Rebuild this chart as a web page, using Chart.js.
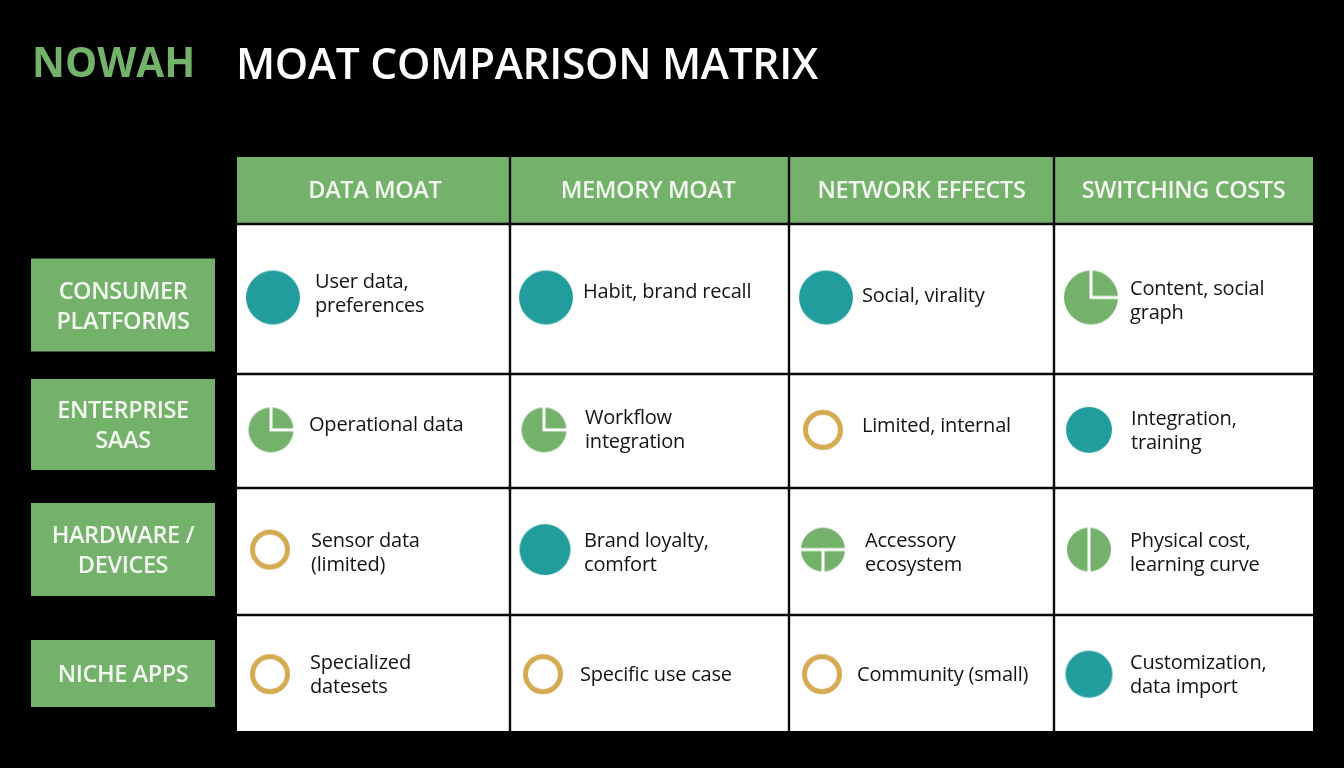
<!DOCTYPE html>
<html>
<head>
<meta charset="utf-8">
<style>html,body{margin:0;padding:0;background:#000;}canvas{display:block;}</style>
<script src="https://cdn.jsdelivr.net/npm/chart.js@4"></script>
</head>
<body>
<canvas id="c" width="1344" height="768"></canvas>
<script>
// ---- content ----
const brand = 'NOWAH';
const chartTitle = 'MOAT COMPARISON MATRIX';
const columns = ['DATA MOAT', 'MEMORY MOAT', 'NETWORK EFFECTS', 'SWITCHING COSTS'];
const rowNames = [['CONSUMER', 'PLATFORMS'], ['ENTERPRISE', 'SAAS'], ['HARDWARE /', 'DEVICES'], ['NICHE APPS']];
// moat strength per cell: full / three / half / tee / none
const consumerLevels = ['full', 'full', 'full', 'three'];
const enterpriseLevels = ['three', 'three', 'none', 'full'];
const hardwareLevels = ['none', 'full', 'tee', 'half'];
const nicheLevels = ['none', 'none', 'none', 'full'];
const consumerNotes = [['User data,', 'preferences'], ['Habit, brand recall'], ['Social, virality'], ['Content, social', 'graph']];
const enterpriseNotes = [['Operational data'], ['Workflow', 'integration'], ['Limited, internal'], ['Integration,', 'training']];
const hardwareNotes = [['Sensor data', '(limited)'], ['Brand loyalty,', 'comfort'], ['Accessory', 'ecosystem'], ['Physical cost,', 'learning curve']];
const nicheNotes = [['Specialized', 'datesets'], ['Specific use case'], ['Community (small)'], ['Customization,', 'data import']];
const levelsByRow = [consumerLevels, enterpriseLevels, hardwareLevels, nicheLevels];
const notesByRow = [consumerNotes, enterpriseNotes, hardwareNotes, nicheNotes];

// ---- layout (pixels on the page, separate from the content) ----
const xEdges = [0, 237, 510, 789, 1054, 1313, 1344];          // value -1..5
const yEdges = [0, 157, 224, 374, 488, 615, 731, 768];        // value -2..5
const headerMiddle = [0.505, 0.495, 0.5, 0.5];
const ballInset = [[36, 36, 37, 37], [34, 34, 34, 35], [33, 35, 34, 35], [33, 33, 33, 35]];
const ballMiddle = [0.49, 0.49, 0.485, 0.51];
const ballDiameter = [[54, 54, 54, 54], [45, 45, 40, 46], [40, 51, 44, 44], [40, 40, 40, 47]];
const noteInset = [[78, 73, 73, 76], [72, 75, 73, 77], [74, 74, 76, 76], [73, 70, 68, 76]];
const noteMiddle = [[0.467, 0.453, 0.48, 0.513], [0.45, 0.49, 0.46, 0.5], [0.516, 0.516, 0.516, 0.516], [0.517, 0.517, 0.517, 0.517]];
const lineGap = 24;
const rowBox = { left: 31, right: 215, mid: [305, 424.5, 549.5, 673.5], height: [93, 91, 93, 67], gap: 30 };

const GREEN = '#74b26c', TEAL = '#229d9d', GOLD = '#d4aa52', INK = '#141414';
const SANS = '"Open Sans"';

class EdgeScale extends Chart.LinearScale {
  static id = 'edge';
  static defaults = Chart.LinearScale.defaults;
  getPixelForValue(v) {
    const e = this.options.edges, base = this.min;
    const t = v - base, i = Math.max(0, Math.min(e.length - 2, Math.floor(t)));
    return e[i] + (t - i) * (e[i + 1] - e[i]);
  }
}
Chart.register(EdgeScale);

function ball(kind, d) {
  const c = document.createElement('canvas');
  c.width = c.height = d + 2;
  const g = c.getContext('2d'), m = (d + 2) / 2, r = d / 2;
  g.beginPath();
  if (kind === 'none') {
    g.arc(m, m, r - 2.5, 0, Math.PI * 2);
    g.lineWidth = 5; g.strokeStyle = GOLD; g.stroke();
    return c;
  }
  g.arc(m, m, r, 0, Math.PI * 2);
  g.fillStyle = kind === 'full' ? TEAL : GREEN;
  g.fill();
  g.strokeStyle = '#fff'; g.lineWidth = 3;
  g.beginPath();
  if (kind === 'three') { g.moveTo(m, 0); g.lineTo(m, m); g.lineTo(d + 2, m); }
  if (kind === 'half') { g.moveTo(m, 0); g.lineTo(m, d + 2); }
  if (kind === 'tee') { g.moveTo(0, m); g.lineTo(d + 2, m); g.moveTo(m, m); g.lineTo(m, d + 2); }
  g.stroke();
  return c;
}

function text(ctx, s, x, y, font, color, align, spacing) {
  ctx.font = font; ctx.fillStyle = color; ctx.textAlign = align || 'left';
  ctx.textBaseline = 'middle'; ctx.letterSpacing = (spacing || 0) + 'px';
  ctx.fillText(s, x, y);
  ctx.letterSpacing = '0px';
}

const matrixPlugin = {
  id: 'matrix',
  beforeDatasetsDraw(chart) {
    const { ctx, scales: { x, y } } = chart;
    const X = v => x.getPixelForValue(v), Y = v => y.getPixelForValue(v);
    ctx.save();
    ctx.fillStyle = '#000'; ctx.fillRect(0, 0, chart.width, chart.height);
    ctx.fillStyle = GREEN; ctx.fillRect(X(0), Y(-1), X(4) - X(0), Y(0) - Y(-1));
    ctx.fillStyle = '#fff'; ctx.fillRect(X(0), Y(0), X(4) - X(0), Y(4) - Y(0));
    ctx.strokeStyle = '#0a0a0a'; ctx.lineWidth = 2.4;
    for (let c = 1; c < 4; c++) { ctx.beginPath(); ctx.moveTo(X(c), Y(-1)); ctx.lineTo(X(c), Y(4)); ctx.stroke(); }
    for (let r = 0; r < 4; r++) { ctx.beginPath(); ctx.moveTo(X(0), Y(r)); ctx.lineTo(X(4), Y(r)); ctx.stroke(); }
    // column and row headers
    columns.forEach((name, c) => text(ctx, name, X(c + headerMiddle[c]), Y(-0.5) + 1, '600 23.5px ' + SANS, '#f4f9f2', 'center', -0.4));
    rowNames.forEach((lines, r) => {
      const mid = rowBox.mid[r], h = rowBox.height[r];
      ctx.fillStyle = GREEN;
      ctx.fillRect(rowBox.left, mid - h / 2, rowBox.right - rowBox.left, h);
      lines.forEach((s, i) => text(ctx, s, (rowBox.left + rowBox.right) / 2,
        mid + 2 + (i - (lines.length - 1) / 2) * rowBox.gap, '600 23.5px ' + SANS, '#f4f9f2', 'center', -0.4));
    });
    // titles
    text(ctx, brand, 32, 65, '700 40.5px ' + SANS, GREEN);
    text(ctx, chartTitle, 236, 67, '600 42.5px ' + SANS, '#fff', 'left', -0.3);
    // notes
    notesByRow.forEach((row, r) => row.forEach((lines, c) => {
      lines.forEach((s, i) => {
        const left = X(c) + noteInset[r][c];
        const top = Y(r + noteMiddle[r][c]) + (i - (lines.length - 1) / 2) * lineGap;
        text(ctx, s, left, top, '400 20px ' + SANS, INK, 'left', -0.2);
      });
    }));
    ctx.restore();
  }
};

const datasets = levelsByRow.map((levels, r) => ({
  label: rowNames[r].join(' '),
  data: levels.map((_, c) => ({
    x: c + ballInset[r][c] / (xEdges[c + 2] - xEdges[c + 1]),
    y: r + ballMiddle[r]
  })),
  pointStyle: levels.map((k, c) => ball(k, ballDiameter[r][c])),
  showLine: false,
  clip: false
}));

new Chart(document.getElementById('c'), {
  type: 'scatter',
  data: { datasets },
  plugins: [matrixPlugin],
  options: {
    responsive: false,
    animation: false,
    events: [],
    layout: { padding: 0 },
    plugins: { legend: { display: false }, tooltip: { enabled: false }, title: { display: false } },
    scales: {
      x: { type: 'edge', edges: xEdges, min: -1, max: 5, display: false },
      y: { type: 'edge', edges: yEdges, min: -2, max: 5, display: false }
    }
  }
});
</script>
</body>
</html>
